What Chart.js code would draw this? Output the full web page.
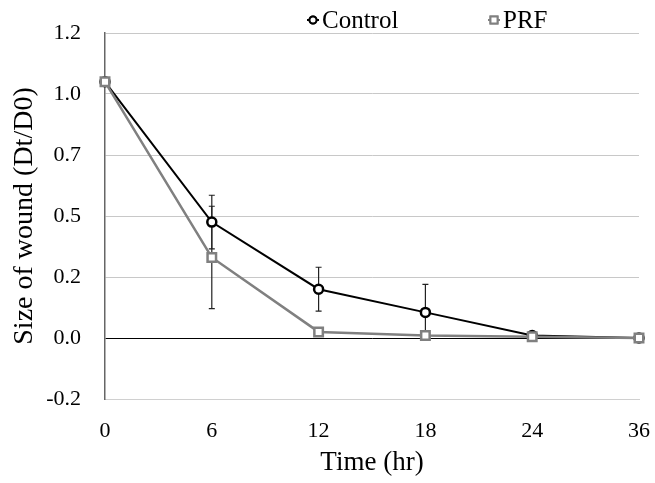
<!DOCTYPE html>
<html>
<head>
<meta charset="utf-8">
<script src="https://cdn.jsdelivr.net/npm/chart.js@4.4.0/dist/chart.umd.min.js"></script>
<style>
  html, body { margin: 0; padding: 0; background: #fff; }
  #wrap { width: 655px; height: 483px; }
</style>
</head>
<body>
<div id="wrap"><canvas id="woundChart" width="655" height="483"></canvas></div>
<script>
// Tiempos de medición (hr)
const timeLabels = ['0', '6', '12', '18', '24', '36'];

// Tamaño de la herida (Dt/D0) y error estándar
const controlValues = [1.05, 0.475, 0.20, 0.105, 0.01, 0.0];
const controlErrors = [0, 0.11, 0.09, 0.115, 0, 0];
const prfValues = [1.05, 0.33, 0.025, 0.01, 0.005, 0.0];
const prfErrors = [0, 0.21, 0, 0, 0, 0];

const serif = "'Liberation Serif', 'Times New Roman', serif";

// Barras de error dibujadas con las escalas del gráfico
const errorBars = {
    id: 'errorBars',
    beforeDatasetsDraw(chart) {
        const { ctx, scales: { x, y } } = chart;
        ctx.save();
        ctx.strokeStyle = '#222';
        ctx.lineWidth = 1.2;
        chart.data.datasets.forEach(ds => {
            ds.data.forEach((v, i) => {
                const e = ds.errors[i];
                if (!e) return;
                const px = x.getPixelForValue(i);
                const top = y.getPixelForValue(v + e);
                const bot = y.getPixelForValue(v - e);
                ctx.beginPath();
                ctx.moveTo(px, top); ctx.lineTo(px, bot);
                ctx.moveTo(px - 3, top); ctx.lineTo(px + 3, top);
                ctx.moveTo(px - 3, bot); ctx.lineTo(px + 3, bot);
                ctx.stroke();
            });
        });
        ctx.restore();
    }
};

// Leyenda arriba del área del gráfico
const topLegend = {
    id: 'topLegend',
    afterDraw(chart) {
        const { ctx } = chart;
        const items = [
            { ds: chart.data.datasets[0], x: 313 },
            { ds: chart.data.datasets[1], x: 494 }
        ];
        ctx.save();
        ctx.font = '25px ' + serif;
        ctx.textBaseline = 'middle';
        items.forEach(it => {
            const ds = it.ds;
            const yy = 20;
            ctx.strokeStyle = ds.borderColor;
            ctx.lineWidth = 2;
            ctx.beginPath();
            ctx.moveTo(it.x - 6, yy); ctx.lineTo(it.x + 6, yy);
            ctx.stroke();
            Chart.helpers.drawPoint(ctx, {
                pointStyle: ds.pointStyle,
                radius: ds.pointStyle === 'rect' ? 5 : 3.5,
                borderWidth: 2
            }, it.x, yy);
            ctx.fillStyle = '#fff';
            ctx.fill();
            ctx.stroke();
            ctx.fillStyle = '#000';
            ctx.fillText(ds.label, it.x + 9, yy + 1);
        });
        ctx.restore();
    }
};

const ctx = document.getElementById('woundChart').getContext('2d');
new Chart(ctx, {
    type: 'line',
    data: {
        labels: timeLabels,
        datasets: [{
            label: 'Control',
            data: controlValues,
            errors: controlErrors,
            borderColor: '#000',
            backgroundColor: '#fff',
            borderWidth: 2,
            pointStyle: 'circle',
            pointRadius: 4.5,
            pointBorderWidth: 2.5,
            tension: 0,
            order: 2
        }, {
            label: 'PRF',
            data: prfValues,
            errors: prfErrors,
            borderColor: '#808080',
            backgroundColor: '#fff',
            borderWidth: 2.5,
            pointStyle: 'rect',
            pointRadius: 6,
            pointBorderWidth: 2.5,
            tension: 0,
            order: 1
        }]
    },
    options: {
        responsive: false,
        animation: false,
        layout: { padding: { left: 0, right: 16, top: 33, bottom: 0 } },
        plugins: {
            legend: { display: false },
            tooltip: { enabled: false }
        },
        scales: {
            x: {
                grid: { display: false, drawTicks: false },
                border: { color: '#d0d0d0', width: 1 },
                ticks: { color: '#000', padding: 19, font: { family: serif, size: 22 }, maxRotation: 0 },
                title: { display: true, text: 'Time (hr)', color: '#000', padding: { top: 0 }, font: { family: serif, size: 27 } },
                afterFit: s => { s.height = 84; s.paddingLeft = 0; s.paddingRight = 0; }
            },
            y: {
                min: -0.25,
                max: 1.25,
                ticks: {
                    stepSize: 0.25,
                    color: '#000',
                    padding: 24,
                    font: { family: serif, size: 22 },
                    callback: v => (Math.trunc(Math.round(v * 100) / 10) / 10).toFixed(1)
                },
                grid: {
                    drawTicks: false,
                    lineWidth: 1,
                    color: c => (c.tick && c.tick.value === 0 ? '#000' : '#c8c8c8')
                },
                border: { color: '#666', width: 1.5 },
                title: { display: true, text: 'Size of wound (Dt/D0)', color: '#000', padding: { top: 8, bottom: 2 }, font: { family: serif, size: 28 } },
                afterFit: s => { s.width = 105; s.paddingTop = 0; s.paddingBottom = 0; }
            }
        }
    },
    plugins: [errorBars, topLegend]
});
</script>
</body>
</html>
